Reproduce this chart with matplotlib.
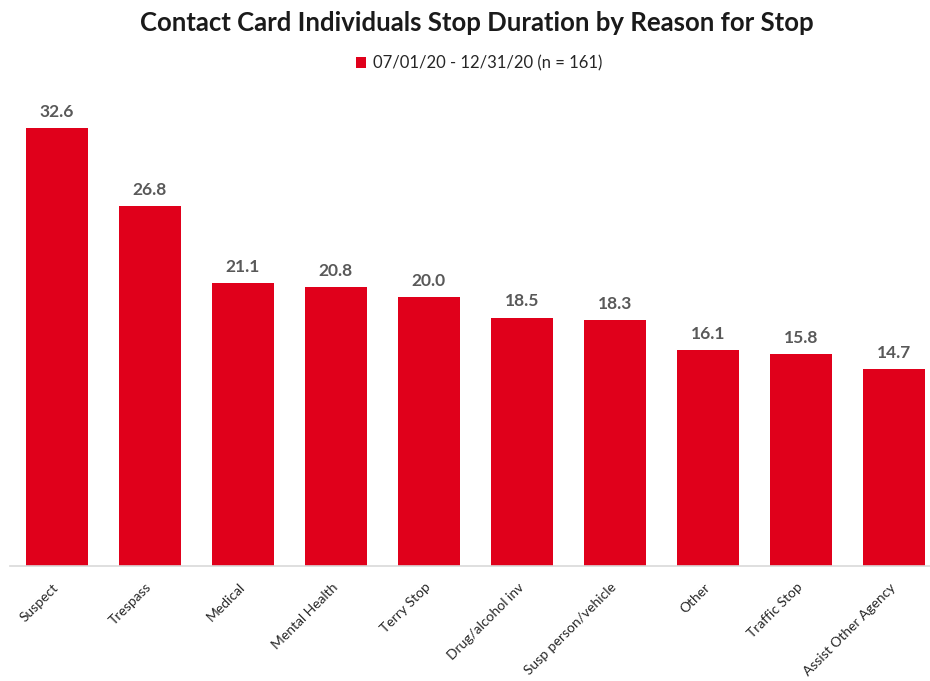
import matplotlib.pyplot as plt
import numpy as np

plt.rcParams['font.family'] = ['Lato', 'DejaVu Sans']

reasons = ['Suspect', 'Trespass', 'Medical', 'Mental Health', 'Terry Stop', 'Drug/alcohol inv',
           'Susp person/vehicle', 'Other', 'Traffic Stop', 'Assist Other Agency']
duration = [32.6, 26.8, 21.1, 20.8, 20.0, 18.5, 18.3, 16.1, 15.8, 14.7]
series_label = '07/01/20 - 12/31/20 (n = 161)'

red = '#e0001b'

fig = plt.figure(figsize=(9.3, 6.81), dpi=100)
ax = fig.add_axes([0.011, 0.169, 0.989, 0.69])

x = np.arange(len(reasons))
bars = ax.bar(x, duration, width=0.67, color=red, label=series_label)
for xi, v in zip(x, duration):
    ax.text(xi, v + 0.6, f'{v:.1f}', ha='center', va='bottom', fontsize=12.5,
            fontweight='bold', color='#595959')

ax.set_xlim(-0.5, 9.39)
ax.set_ylim(0, 35)
ax.set_yticks([])
ax.set_xticks(x)
ax.set_xticklabels(reasons, rotation=45, ha='right', va='center', rotation_mode='anchor',
                   fontsize=10, color='#262626')
ax.tick_params(axis='x', length=0, pad=14)
for s in ['top', 'right', 'left']:
    ax.spines[s].set_visible(False)
ax.spines['bottom'].set_color('#d9d9d9')
ax.spines['bottom'].set_linewidth(1.2)

fig.text(0.513, 0.966, 'Contact Card Individuals Stop Duration by Reason for Stop',
         ha='center', va='center', fontsize=18.5, fontweight='bold', color='#1a1a1a')
fig.legend(loc='center', bbox_to_anchor=(0.515, 0.907), frameon=False, fontsize=12,
           handlelength=0.6, handleheight=0.6, handletextpad=0.4, labelcolor='#262626')

plt.savefig('out.png')
